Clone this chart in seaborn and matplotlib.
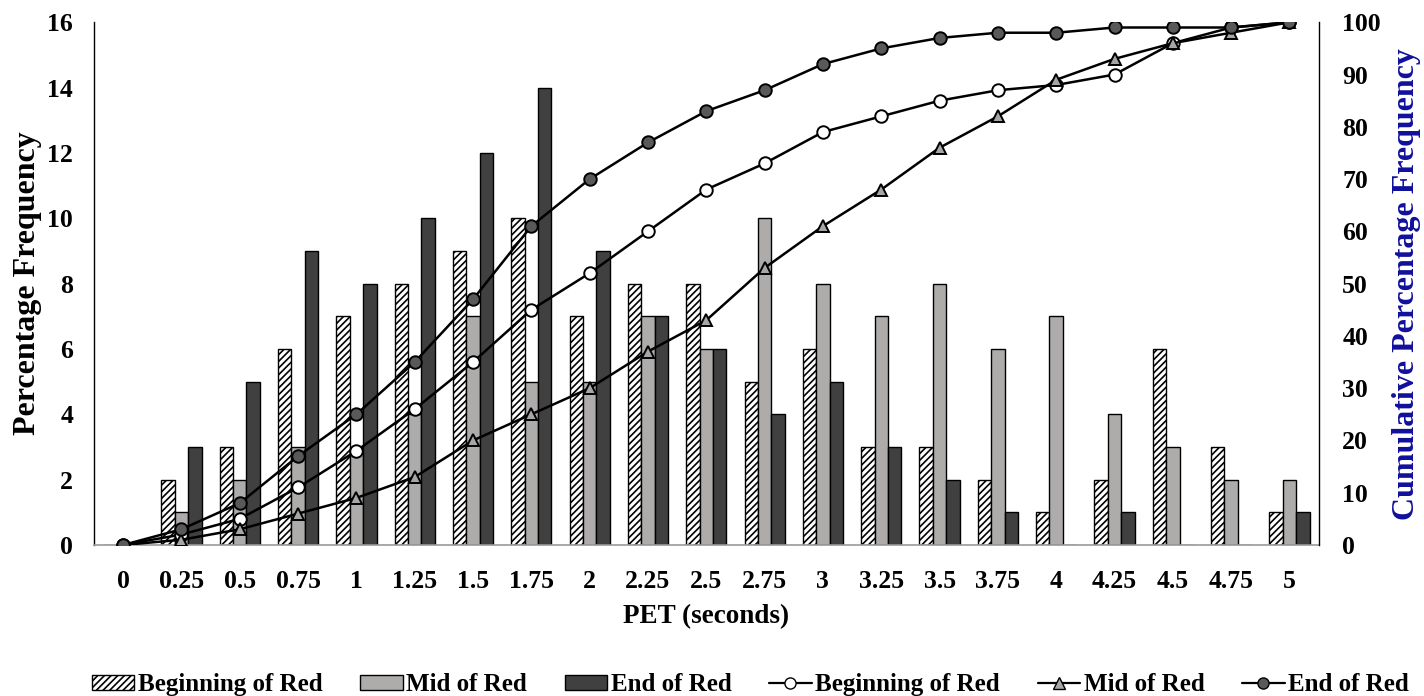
import numpy as np
import pandas as pd
import matplotlib
matplotlib.use("Agg")
import matplotlib.pyplot as plt
import seaborn as sns
from matplotlib.lines import Line2D
from matplotlib.patches import Patch

# ---- data ----
categories = ["0", "0.25", "0.5", "0.75", "1", "1.25", "1.5", "1.75", "2", "2.25", "2.5",
              "2.75", "3", "3.25", "3.5", "3.75", "4", "4.25", "4.5", "4.75", "5"]
beginning_freq = [0, 2, 3, 6, 7, 8, 9, 10, 7, 8, 8, 5, 6, 3, 3, 2, 1, 2, 6, 3, 1]
mid_freq       = [0, 1, 2, 3, 3, 4, 7, 5, 5, 7, 6, 10, 8, 7, 8, 6, 7, 4, 3, 2, 2]
end_freq       = [0, 3, 5, 9, 8, 10, 12, 14, 9, 7, 6, 4, 5, 3, 2, 1, 0, 1, 0, 0, 1]
beginning_cum  = [0, 2, 5, 11, 18, 26, 35, 45, 52, 60, 68, 73, 79, 82, 85, 87, 88, 90, 96, 99, 100]
mid_cum        = [0, 1, 3, 6, 9, 13, 20, 25, 30, 37, 43, 53, 61, 68, 76, 82, 89, 93, 96, 98, 100]
end_cum        = [0, 3, 8, 17, 25, 35, 47, 61, 70, 77, 83, 87, 92, 95, 97, 98, 98, 99, 99, 99, 100]
series_names = ["Beginning of Red", "Mid of Red", "End of Red"]

# ---- style ----
sns.set_theme(style="white")
plt.rcParams["font.family"] = ["Liberation Serif", "DejaVu Serif"]
plt.rcParams["font.weight"] = "bold"
plt.rcParams["hatch.linewidth"] = 1.2
for key in ["text.color", "axes.labelcolor", "xtick.color", "ytick.color"]:
    plt.rcParams[key] = "black"

bar_colors = ["#ffffff", "#aeabab", "#404040"]
marker_faces = ["#ffffff", "#a6a6a6", "#595959"]
marker_shapes = ["o", "^", "o"]
TICK_FS = 18.5

df = pd.DataFrame({
    "PET": categories * 3,
    "freq": beginning_freq + mid_freq + end_freq,
    "series": sum([[s] * len(categories) for s in series_names], []),
})

fig = plt.figure(figsize=(14.24, 6.96), dpi=100)
ax = fig.add_axes([0.066, 0.217, 0.86, 0.751])

sns.barplot(data=df, x="PET", y="freq", hue="series", order=categories,
            hue_order=series_names, palette=bar_colors, width=0.69,
            edgecolor="black", linewidth=1.0, saturation=1, ax=ax, legend=False)
for p in ax.containers[0]:
    p.set_hatch("/////")

ax.set_ylim(0, 16)
ax.set_yticks(range(0, 17, 2))
ax.set_xlim(-0.5, len(categories) - 0.5)
ax.set_xlabel("PET (seconds)", fontsize=19.5, fontweight="bold", labelpad=8, color="black")
ax.set_ylabel("Percentage Frequency", fontsize=23, fontweight="bold", labelpad=4, color="black")
ax.tick_params(axis="y", length=0, labelsize=TICK_FS, pad=15, labelcolor="black")
ax.tick_params(axis="x", length=0, labelsize=TICK_FS, pad=18, labelcolor="black")
for lab in ax.get_xticklabels() + ax.get_yticklabels():
    lab.set_fontweight("bold")
for s in ["top", "right"]:
    ax.spines[s].set_visible(False)
ax.spines["left"].set_color("black")
ax.spines["left"].set_linewidth(1.0)
ax.spines["bottom"].set_color("#9a9a9a")
ax.spines["bottom"].set_linewidth(1.2)

ax2 = ax.twinx()
xs = np.arange(len(categories))
cums = [beginning_cum, mid_cum, end_cum]
for cum, mk, mf in zip(cums, marker_shapes, marker_faces):
    sns.lineplot(x=xs, y=cum, ax=ax2, color="black", linewidth=1.8, marker=mk,
                 markersize=9, markerfacecolor=mf, markeredgecolor="black",
                 markeredgewidth=1.4, legend=False)
ax2.set_ylim(0, 100)
ax2.set_yticks(range(0, 101, 10))
ax2.tick_params(axis="y", length=0, labelsize=TICK_FS, pad=17, labelcolor="black")
for lab in ax2.get_yticklabels():
    lab.set_fontweight("bold")
ax2.set_ylabel("Cumulative Percentage Frequency", fontsize=23, fontweight="bold",
               color="#10109c", labelpad=8)
for s in ["left", "top", "bottom"]:
    ax2.spines[s].set_visible(False)
ax2.spines["right"].set_color("black")
ax2.spines["right"].set_linewidth(1.0)
ax2.grid(False)
ax.grid(False)

# ---- legend ----
handles = []
for i, c in enumerate(bar_colors):
    handles.append(Patch(facecolor=c, edgecolor="black", hatch="/////" if i == 0 else None))
for mk, mf in zip(marker_shapes, marker_faces):
    handles.append(Line2D([0], [0], color="black", linewidth=1.6, marker=mk, markersize=8,
                          markerfacecolor=mf, markeredgecolor="black"))
labels = series_names + series_names
fig.legend(handles, labels, loc="lower center", bbox_to_anchor=(0.527, -0.033), ncol=6,
           frameon=False, prop={"weight": "bold", "size": 18}, handlelength=1.7,
           handleheight=0.55, handletextpad=0.15, columnspacing=1.5, labelcolor="black")

fig.savefig("out.png", dpi=100)
